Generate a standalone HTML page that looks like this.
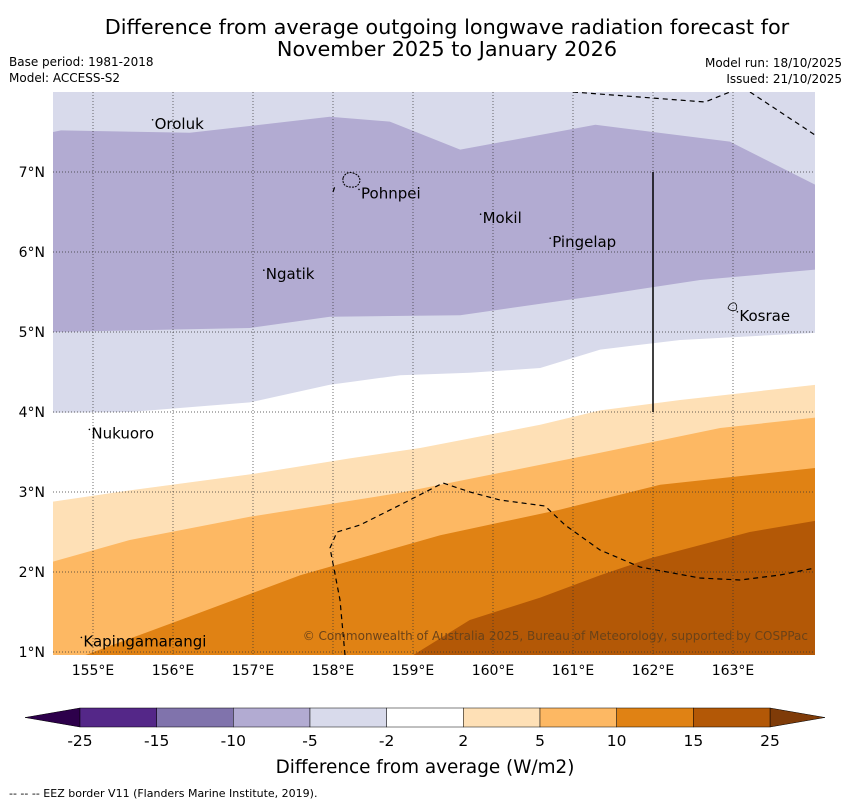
<!DOCTYPE html>
<html><head><meta charset="utf-8"><style>
body{margin:0;background:#fff;width:850px;height:804px;overflow:hidden;font-family:"DejaVu Sans","Liberation Sans",sans-serif}
svg text{font-family:"DejaVu Sans","Liberation Sans",sans-serif}
</style></head><body>
<svg id="chart" width="850" height="804" xmlns="http://www.w3.org/2000/svg">
<text x="447" y="34" font-size="20.8" text-anchor="middle">Difference from average outgoing longwave radiation forecast for</text>
<text x="447" y="56" font-size="20.8" text-anchor="middle">November 2025 to January 2026</text>
<text x="9" y="66" font-size="12">Base period: 1981-2018</text>
<text x="9" y="82" font-size="12">Model: ACCESS-S2</text>
<text x="842" y="67" font-size="12" text-anchor="end">Model run: 18/10/2025</text>
<text x="842" y="83" font-size="12" text-anchor="end">Issued: 21/10/2025</text>
<defs><clipPath id="mc"><rect x="53" y="92" width="762" height="563"/></clipPath></defs>
<g id="map" clip-path="url(#mc)"></g>
<g id="axes"></g>
<g id="cbar"></g>
<text x="425" y="773" font-size="18.4" text-anchor="middle">Difference from average (W/m2)</text>
<text x="9" y="797" font-size="11">--  --  -- EEZ border V11 (Flanders Marine Institute, 2019).</text>
</svg>
<script>
// ---- data ----
const lonTicks=[155,156,157,158,159,160,161,162,163];
const latTicks=[1,2,3,4,5,6,7];
const b1Lon=[154.5,154.6,156.21,157.96,158.71,159.59,161.28,162.96,164.03];
const b1Lat=[7.5,7.52,7.49,7.69,7.63,7.28,7.59,7.38,6.84];
const b2Lon=[154.5,156.96,157.96,159.59,161.34,162.59,164.03];
const b2Lat=[5.0,5.05,5.19,5.21,5.46,5.65,5.78];
const b3Lon=[154.5,155.46,156.96,157.96,158.84,159.71,160.59,161.34,162.34,164.03];
const b3Lat=[3.99,4.0,4.12,4.34,4.46,4.49,4.55,4.78,4.9,4.99];
const b4Lon=[154.5,155.46,156.96,158.21,159.09,160.59,161.34,162.34,164.03];
const b4Lat=[2.88,3.02,3.22,3.42,3.55,3.84,4.02,4.15,4.34];
const b5Lon=[154.5,155.46,156.96,158.84,161.34,162.84,164.03];
const b5Lat=[2.13,2.4,2.69,2.99,3.49,3.8,3.93];
const b6Lon=[154.9,156.09,157.59,159.34,160.84,162.09,164.03];
const b6Lat=[0.96,1.4,1.96,2.46,2.78,3.09,3.3];
const b7Lon=[159.0,159.71,160.59,161.34,161.96,163.21,164.03];
const b7Lat=[0.96,1.4,1.68,1.96,2.17,2.5,2.64];
const levelColors=["#b2abd2","#ffffff","#fee0b6","#fdb863","#e08214","#b35806"];
const cbarLabels=["-25","-15","-10","-5","-2","2","5","10","15","25"];
const cbarColors=["#542788","#8073ac","#b2abd2","#d8daeb","#ffffff","#fee0b6","#fdb863","#e08214","#b35806"];
const places=[["Oroluk",155.77,7.54],["Pohnpei",158.35,6.67],["Mokil",159.87,6.36],["Pingelap",160.74,6.06],["Ngatik",157.16,5.66],["Kosrae",163.08,5.14],["Nukuoro",154.98,3.67],["Kapingamarangi",154.88,1.07]];
// ---- scales ----
const X=l=>93+(l-155)*80, Y=a=>172-(a-7)*80;
const NS="http://www.w3.org/2000/svg";
function mk(t,p,a){const e=document.createElementNS(NS,t);for(const k in a)e.setAttribute(k,a[k]);p.appendChild(e);return e;}
const map=document.getElementById('map');
const bg=mk('rect',map,{x:53,y:92,width:762,height:563,fill:'#d8daeb'});


function pts(lo,la){return lo.map((l,i)=>X(l)+','+Y(la[i])).join(' ');}
const p1=mk('polygon',map,{points:pts(b1Lon,b1Lat)+' '+pts(b2Lon.slice().reverse(),b2Lat.slice().reverse()),fill:levelColors[0]});


const below=[[b3Lon,b3Lat,'band-minus2-2'],[b4Lon,b4Lat,'band-2-5'],[b5Lon,b5Lat,'band-5-10'],[b6Lon,b6Lat,'band-10-15'],[b7Lon,b7Lat,'band-15-25']];
below.forEach((b,i)=>{
 const lo=b[0],la=b[1];
 const p=mk('polygon',map,{points:X(lo[0])+',700 '+pts(lo,la)+' '+X(lo[lo.length-1])+',700',fill:levelColors[i+1]});
 
 
});
lonTicks.forEach(l=>{const g=mk('line',map,{x1:X(l),x2:X(l),y1:92,y2:655,stroke:'#333',"stroke-width":0.7,"stroke-dasharray":'1,2'});
 });
latTicks.forEach(a=>{const g=mk('line',map,{x1:53,x2:815,y1:Y(a),y2:Y(a),stroke:'#333',"stroke-width":0.7,"stroke-dasharray":'1,2'});
 });
const eez=["573,92 705,102 735,90","750,92 815,135","345,655 340,600 330,548 337,532 360,525 400,505 443,483 470,492 500,500 545,506 565,525 600,550 640,567 700,578 740,580 780,575 815,568","333,192 335,186"];
eez.forEach(s=>{const e=mk('polyline',map,{points:s,fill:'none',stroke:'#000',"stroke-width":1.2,"stroke-dasharray":'5,4'});
 });
const vl=mk('line',map,{x1:X(162),x2:X(162),y1:Y(7),y2:Y(4),stroke:'#000',"stroke-width":1.5});

const pi=mk('path',map,{d:'M343,178 q3,-7 10,-5 q7,2 7,8 q-2,7 -9,6 q-9,0 -8,-9z',fill:'none',stroke:'#000',"stroke-dasharray":'2,1'});

const ki=mk('path',map,{d:'M728,308 q2,-6 7,-5 q3,3 1,7 q-5,2 -8,-2z',fill:'none',stroke:'#000',"stroke-width":0.8});

places.forEach(p=>{const t=mk('text',map,{x:X(p[1]),y:Y(p[2]),"font-size":15});t.textContent=p[0];
 
 const d=mk('circle',map,{cx:X(p[1])-2,cy:Y(p[2])-9,r:0.8,fill:'#000'});
 });
const cp=mk('text',map,{x:808,y:640,"font-size":12,"text-anchor":'end',fill:'#6b4218'});cp.textContent='© Commonwealth of Australia 2025, Bureau of Meteorology, supported by COSPPac';

const ax=document.getElementById('axes');
lonTicks.forEach(l=>{const t=mk('text',ax,{x:X(l),y:675,"font-size":14,"text-anchor":'middle'});t.textContent=l+'°E';
 });
latTicks.forEach(a=>{const t=mk('text',ax,{x:45,y:Y(a)+5,"font-size":14,"text-anchor":'end'});t.textContent=a+'°N';
 });
const cb=document.getElementById('cbar');
const cx0=80,cw=690/cbarColors.length;
const el=mk('polygon',cb,{points:'80,708 25,717.5 80,727',fill:'#2d004b',stroke:'#000',"stroke-width":0.5});

const er=mk('polygon',cb,{points:'770,708 825,717.5 770,727',fill:'#7f3b08',stroke:'#000',"stroke-width":0.5});

cbarColors.forEach((c,i)=>{const r=mk('rect',cb,{x:cx0+i*cw,y:708,width:cw,height:19,fill:c,stroke:'#000',"stroke-width":0.5});
 });
cbarLabels.forEach((s,i)=>{const t=mk('text',cb,{x:cx0+i*cw,y:746,"font-size":15.5,"text-anchor":'middle'});t.textContent=s;
 });
</script>
</body></html>
